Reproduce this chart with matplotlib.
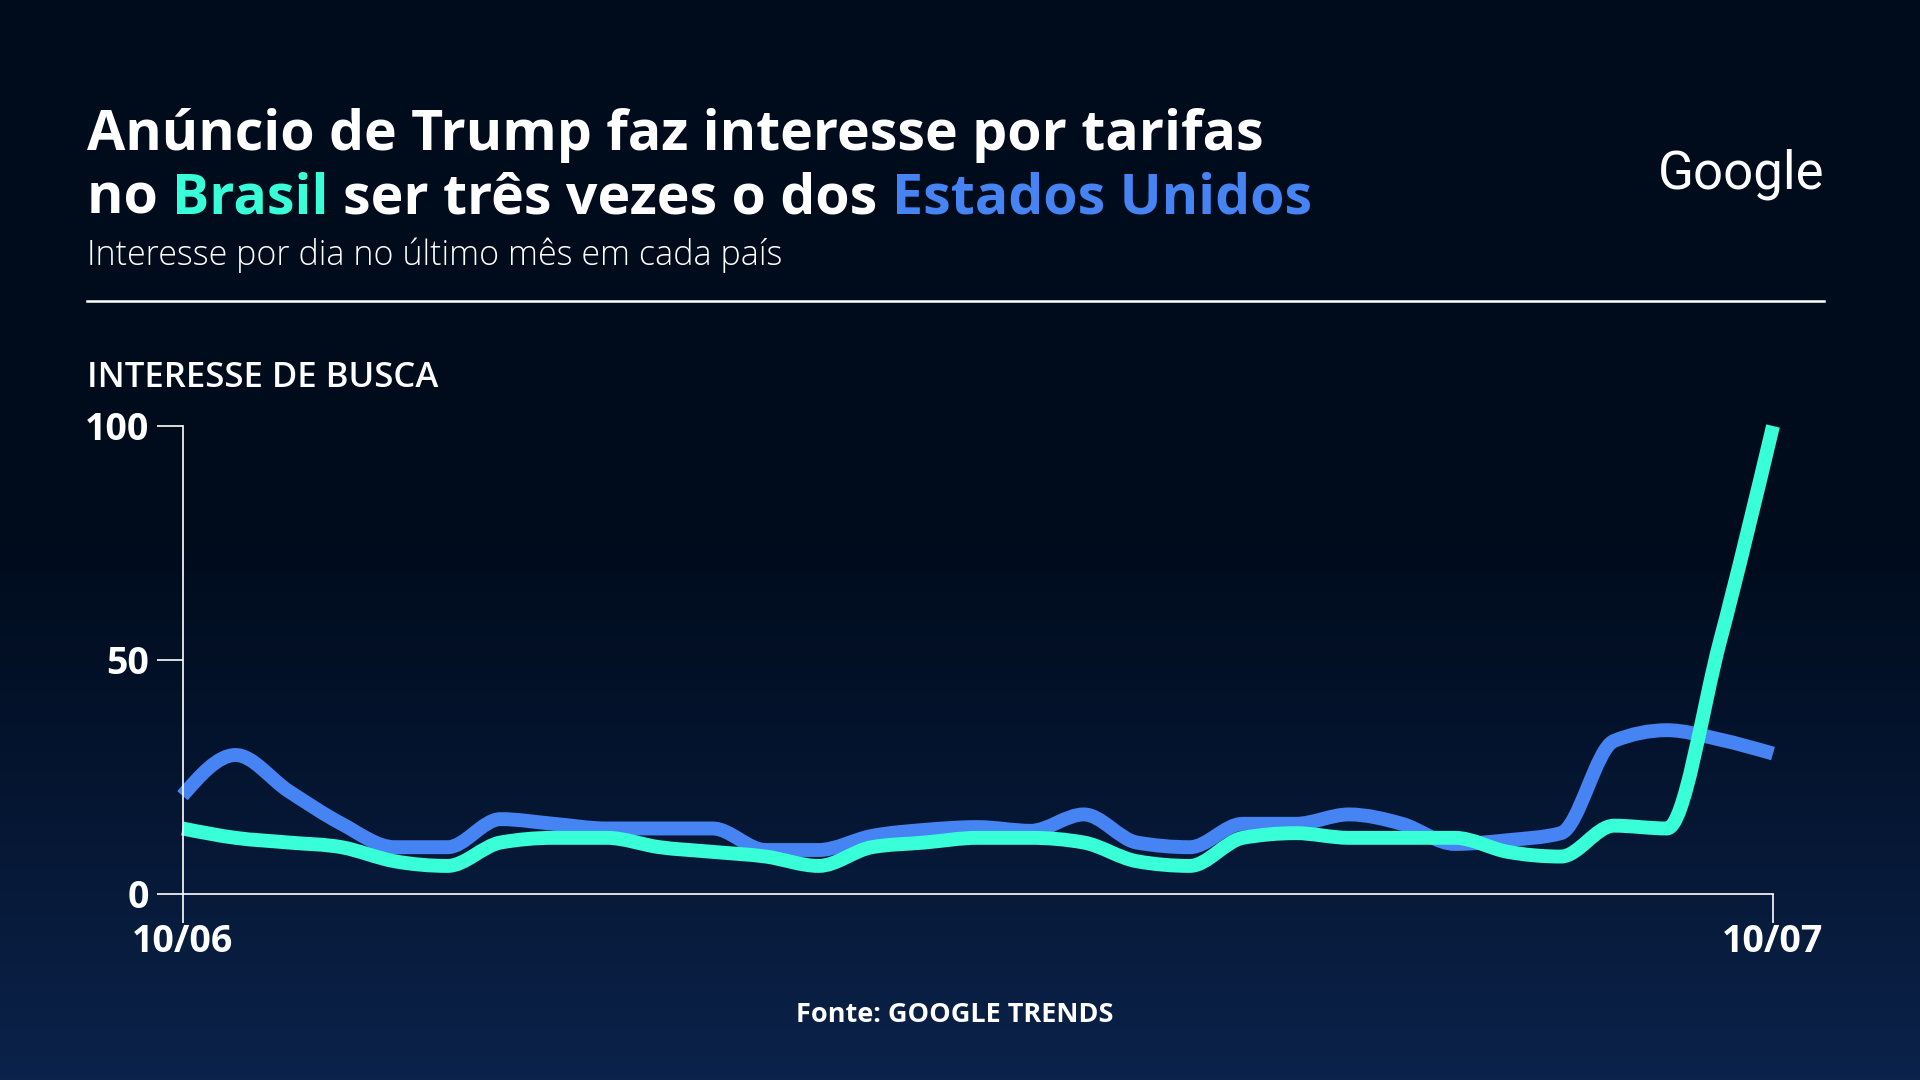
import numpy as np
import matplotlib
matplotlib.use("Agg")
import matplotlib.pyplot as plt
from matplotlib.path import Path
from matplotlib.patches import PathPatch
from matplotlib.colors import LinearSegmentedColormap

# --- data (Google Trends, daily interest, 10/06 -> 10/07) ---
days = np.arange(31)
tick_labels = ["10/06", "10/07"]
brasil = [14, 12, 11, 10, 7, 6, 11, 12, 12, 10, 9, 8, 6, 10, 11, 12,
          12, 11, 7, 6, 12, 13, 12, 12, 12, 9, 8, 14.6, 14, 54, 100]
eua = [21, 29.7, 22, 15, 10, 10, 16, 15, 14, 14, 14, 9.4, 9.4, 12.4, 13.7, 14.3,
       13.5, 17, 11, 10, 15, 15, 17, 15, 10.7, 11.5, 13, 32.7, 35, 33, 30]

BG_TOP = "#000b1c"
BG_BOT = "#0b224a"
GREEN = "#38ffd8"
BLUE = "#4584f2"
WHITE = "white"

plt.rcParams['font.family'] = ['Open Sans', 'DejaVu Sans']

W, H = 1920, 1080
fig = plt.figure(figsize=(W / 100, H / 100), dpi=100)

# background gradient
bg = fig.add_axes([0, 0, 1, 1], zorder=-10)
grad = np.linspace(0, 1, 256).reshape(-1, 1)
cmap = LinearSegmentedColormap.from_list("bg", [BG_TOP, BG_TOP, BG_BOT], N=256)
bg.imshow(grad, aspect="auto", cmap=cmap, extent=[0, 1, 1, 0])
bg.set_axis_off()


def fx(px):
    return px / W


def fy(py):
    return 1 - py / H


def monotone_path(x, y):
    # smooth monotone cubic curve through the points (like d3 curveMonotoneX)
    x = np.asarray(x, float)
    y = np.asarray(y, float)
    n = len(x)
    h = np.diff(x)
    d = np.diff(y) / h
    m = np.zeros(n)
    for i in range(1, n - 1):
        s0, s1 = d[i - 1], d[i]
        p = (s0 * h[i] + s1 * h[i - 1]) / (h[i - 1] + h[i])
        m[i] = (np.sign(s0) + np.sign(s1)) * min(abs(s0), abs(s1), 0.5 * abs(p))
    m[0] = (3 * d[0] - m[1]) / 2
    m[-1] = (3 * d[-1] - m[-2]) / 2
    verts = [(x[0], y[0])]
    codes = [Path.MOVETO]
    for i in range(n - 1):
        dx = h[i] / 3
        verts += [(x[i] + dx, y[i] + m[i] * dx),
                  (x[i + 1] - dx, y[i + 1] - m[i + 1] * dx),
                  (x[i + 1], y[i + 1])]
        codes += [Path.CURVE4] * 3
    return Path(verts, codes)


# --- chart ---
ax = fig.add_axes([fx(182.5), fy(894), fx(1773 - 182.5), (894 - 426) / H])
ax.patch.set_alpha(0)
ax.set_xlim(0, 30)
ax.set_ylim(0, 100)

for series, col in [(eua, BLUE), (brasil, GREEN)]:
    patch = PathPatch(monotone_path(days, series), fill=False, edgecolor=col,
                      lw=10, capstyle="butt", joinstyle="round", clip_on=False)
    ax.add_patch(patch)

for s in ["top", "right"]:
    ax.spines[s].set_visible(False)
for s in ["left", "bottom"]:
    ax.spines[s].set_color(WHITE)
    ax.spines[s].set_linewidth(1.2)

ax.set_yticks([0, 50, 100])
ax.set_yticklabels(["0", "50", "100"])
ax.set_xticks([0, 30])
ax.set_xticklabels(tick_labels)
ax.tick_params(axis="y", colors=WHITE, length=19, width=1.2, pad=5,
               labelsize=27, direction="out")
ax.tick_params(axis="x", colors=WHITE, length=21, width=1.2, pad=0,
               labelsize=27, direction="out")
for lab in ax.get_yticklabels() + ax.get_xticklabels():
    lab.set_fontweight("bold")
    lab.set_color(WHITE)

# --- texts ---
fig.canvas.draw()
renderer = fig.canvas.get_renderer()


def text_width(s, **kw):
    t = fig.text(0, 0, s, **kw)
    w = t.get_window_extent(renderer).width
    t.remove()
    return w


title_kw = dict(fontsize=40, fontweight="bold")
fig.text(fx(87), fy(150), "Anúncio de Trump faz interesse por tarifas",
         color=WHITE, va="baseline", ha="left", **title_kw)

parts = [("no ", WHITE), ("Brasil", GREEN), (" ser três vezes o dos ", WHITE),
         ("Estados Unidos", BLUE)]
prefix = ""
for txt, col in parts:
    shown = txt.lstrip()
    if prefix:
        lead = txt[:len(txt) - len(shown)]
        first = shown[0]
        off = text_width(prefix + lead + first, **title_kw) - text_width(first, **title_kw)
        x0 = 87 + off
    else:
        x0 = 87
    fig.text(fx(x0), fy(213), shown, color=col, va="baseline", ha="left", **title_kw)
    prefix += txt

fig.text(fx(87), fy(265), "Interesse por dia no último mês em cada país",
         color=WHITE, fontsize=24.5, fontweight="light", va="baseline", ha="left")

fig.text(fx(1824), fy(188), "Google", color=WHITE, fontsize=38,
         family=["Roboto", "DejaVu Sans"], va="baseline", ha="right")

fig.add_artist(plt.Line2D([fx(87), fx(1824)], [fy(300.5), fy(300.5)],
                          color=WHITE, lw=1.8, transform=fig.transFigure))

fig.text(fx(87), fy(387), "INTERESSE DE BUSCA", color=WHITE, fontsize=25,
         fontweight="semibold", va="baseline", ha="left")

fig.text(fx(955), fy(1022), "Fonte: GOOGLE TRENDS", color=WHITE, fontsize=19.5,
         fontweight="bold", va="baseline", ha="center")

fig.savefig("out.png", dpi=100, facecolor=BG_TOP)
